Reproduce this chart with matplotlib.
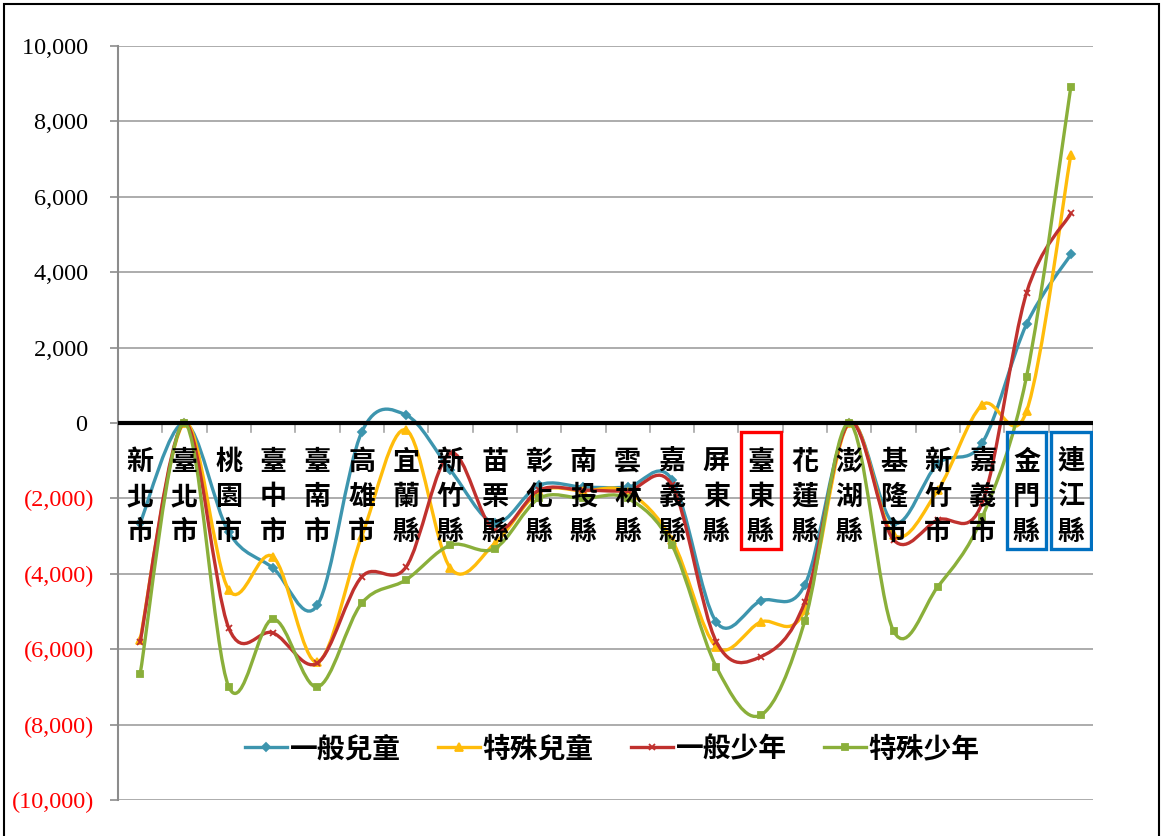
import matplotlib
matplotlib.use('Agg')
import matplotlib.pyplot as plt
import numpy as np
from matplotlib.path import Path
from matplotlib.patches import PathPatch, Rectangle
from matplotlib.lines import Line2D

# data
categories = ['新北市', '臺北市', '桃園市', '臺中市', '臺南市', '高雄市', '宜蘭縣', '新竹縣',
              '苗栗縣', '彰化縣', '南投縣', '雲林縣', '嘉義縣', '屏東縣', '臺東縣', '花蓮縣',
              '澎湖縣', '基隆市', '新竹市', '嘉義市', '金門縣', '連江縣']
general_child = [-2650, 0, -2900, -3850, -4830, -240, 210, -1250, -2650, -1650, -1700,
                 -1700, -1500, -5280, -4720, -4290, 0, -2650, -1080, -530, 2620, 4470]
special_child = [-5750, 0, -4430, -3550, -6340, -3000, -185, -3850, -3200, -1830, -1800,
                 -1830, -3100, -5940, -5280, -4950, 0, -2970, -1780, 480, 310, 7120]
general_youth = [-5800, 0, -5440, -5570, -6370, -4080, -3820, -800, -2850, -1780, -1780,
                 -1800, -1650, -5800, -6200, -4740, 0, -3100, -2570, -2120, 3450, 5560]
special_youth = [-6650, 0, -7000, -5200, -7000, -4780, -4160, -3240, -3330, -2000, -2000,
                 -2000, -3240, -6470, -7750, -5240, 0, -5520, -4340, -2500, 1230, 8920]
series_names = ['一般兒童', '特殊兒童', '一般少年', '特殊少年']
y_ticks = list(range(-10000, 10001, 2000))
red_boxed = ['臺東縣']
blue_boxed = ['金門縣', '連江縣']

colors = ['#3D95AE', '#FFBC0A', '#C0312E', '#8AAF3A']
markers = ['D', '^', 'x', 's']
msizes = [4, 5.5, 5, 5]

cjk = ['Noto Sans CJK TC', 'DejaVu Sans']


def smooth_path(xs, ys):
    pts = np.column_stack([xs, ys]).astype(float)
    n = len(pts)
    verts = [pts[0]]
    codes = [Path.MOVETO]
    for i in range(n - 1):
        p0 = pts[max(i - 1, 0)]
        p1 = pts[i]
        p2 = pts[i + 1]
        p3 = pts[min(i + 2, n - 1)]
        verts += [p1 + (p2 - p0) / 6, p2 - (p3 - p1) / 6, p2]
        codes += [Path.CURVE4] * 3
    return Path(verts, codes)


fig = plt.figure(figsize=(11.62, 8.36), dpi=100)
ax = fig.add_axes([118 / 1162, 36 / 836, (1093 - 118) / 1162, (800 - 46) / 836])

x = np.arange(len(categories))
all_series = [general_child, special_child, general_youth, special_youth]
for k, vals in enumerate(all_series):
    ax.add_patch(PathPatch(smooth_path(x, vals), fill=False, edgecolor=colors[k],
                           lw=2.4, zorder=3 + k, capstyle='round'))
    ax.plot(x, vals, ls='none', marker=markers[k], ms=msizes[k], color=colors[k],
            mec=colors[k], mew=1.3, zorder=3 + k)

ax.set_xlim(-0.5, len(categories) - 0.5)
ax.set_ylim(-10000, 10000)
ax.set_yticks(y_ticks)
labels = []
for v in y_ticks:
    if v < 0:
        labels.append('({:,})'.format(-v))
    else:
        labels.append('{:,} '.format(v))
ax.set_yticklabels(labels, fontfamily='Liberation Serif', fontsize=17.5)
for t, v in zip(ax.get_yticklabels(), y_ticks):
    if v < 0:
        t.set_color('#FF0000')
ax.tick_params(axis='y', length=6, width=1.2, color='#8C8C8C', pad=11)
ax.set_xticks([])

for s in ['top', 'right', 'bottom']:
    ax.spines[s].set_visible(False)
ax.spines['left'].set_color('#8C8C8C')
ax.spines['left'].set_linewidth(1.5)
ax.yaxis.grid(True, color='#A6A6A6', lw=1.3)
ax.set_axisbelow(True)

# zero line and category ticks
ax.axhline(0, color='black', lw=3, zorder=8)
for b in np.arange(0.5, len(categories)):
    ax.plot([b, b], [0, -230], color='#A6A6A6', lw=1.2, zorder=2)

# vertical category labels
for i, name in enumerate(categories):
    for j, ch in enumerate(name):
        ax.text(i, -1030 - 930 * j, ch, ha='center', va='center', fontsize=19.5,
                fontweight='bold', family=cjk, zorder=10)
    if name in red_boxed or name in blue_boxed:
        ec = '#FF0000' if name in red_boxed else '#0070C0'
        ax.add_patch(Rectangle((i - 0.45, -3340), 0.9, 3100, fill=False, ec=ec,
                               lw=2.4, zorder=11))

handles = [Line2D([], [], color=colors[k], lw=2.4, marker=markers[k], ms=msizes[k],
                  mew=1.3) for k in range(4)]
leg = ax.legend(handles, series_names, loc='center', bbox_to_anchor=(0.507, 0.0675),
                ncol=4, frameon=False, handlelength=1.5, handletextpad=0.1,
                columnspacing=1.35, prop={'family': cjk, 'size': 20, 'weight': 'bold'})

fig.add_artist(Rectangle((4 / 1162, -0.05), 1155 / 1162, 1.05 - 4 / 836, fill=False,
                         ec='black', lw=1.5, transform=fig.transFigure))

fig.savefig('out.png', dpi=100)
